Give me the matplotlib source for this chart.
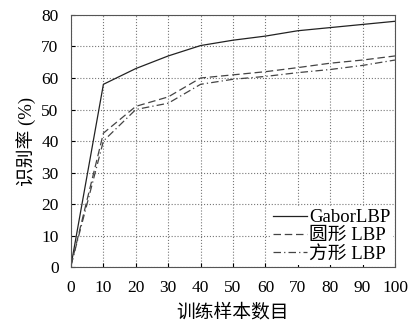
import matplotlib
matplotlib.use("Agg")
import matplotlib.pyplot as plt

plt.rcParams['font.family'] = ['Liberation Serif', 'Noto Sans CJK SC']

x = [0, 10, 20, 30, 40, 50, 60, 70, 80, 90, 100]
gabor = [0.5, 58, 63, 67, 70.3, 72, 73.3, 75, 76, 77, 78]
circle = [0.5, 42.5, 51, 54, 60, 61, 62, 63.3, 64.7, 65.7, 67]
square = [0.5, 40, 50, 52, 58, 59.6, 60.5, 61.7, 62.7, 64, 65.7]
labels = ['GaborLBP', '圆形 LBP', '方形 LBP']

fig = plt.figure(figsize=(4.09, 3.33), dpi=100)
ax = fig.add_axes([0.1736, 0.198, 0.7922, 0.757])
ax.plot(x, gabor, color='#222222', lw=0.9, ls='-', label=labels[0])
ax.plot(x, circle, color='#444444', lw=0.9, ls=(0, (6, 3)), label=labels[1])
ax.plot(x, square, color='#444444', lw=0.9, ls=(0, (6, 2.5, 1, 2.5)), label=labels[2])
ax.set_xlim(0, 100)
ax.set_ylim(0, 80)
ax.set_xticks(range(0, 101, 10))
ax.set_yticks(range(0, 81, 10))
ax.grid(True, ls=':', color='#777777', lw=0.8)
ax.tick_params(direction='in', labelsize=12.5, length=3, pad=9)
for s in ax.spines.values():
    s.set_color('#555555')
    s.set_linewidth(0.8)
ax.set_xlabel('训练样本数目', fontsize=13.5, labelpad=6)
ax.set_ylabel('识别率 (%)', fontsize=13.5, labelpad=4)
leg = ax.legend(loc='lower right', fontsize=13.5, frameon=True, fancybox=False,
                edgecolor='none', framealpha=1, borderaxespad=0.1,
                handlelength=1.8, handletextpad=0.1, labelspacing=0.05, borderpad=0.15)
fig.savefig('out.png', dpi=100)
